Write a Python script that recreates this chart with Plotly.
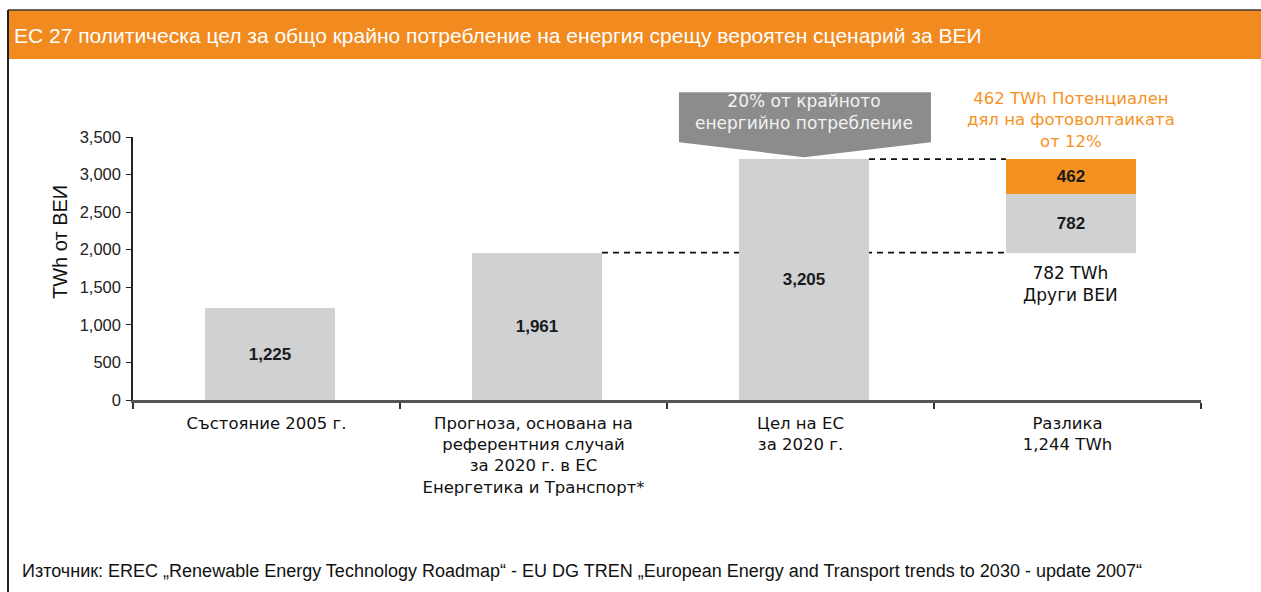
import plotly.graph_objects as go

# ---------------- data ----------------
categories = ["Състояние 2005 г.",
              "Прогноза, основана на<br>референтния случай<br>за 2020 г. в ЕС<br>Енергетика и Транспорт*",
              "Цел на ЕС<br>за 2020 г.",
              "Разлика<br>1,244 TWh"]
main_values = [1225, 1961, 3205]          # bars 1-3
gap_base = 1961                            # bar 4 starts at the forecast level
other_res = 782                            # Други ВЕИ
pv_share = 462                             # фотоволтаика
y_ticks = [0, 500, 1000, 1500, 2000, 2500, 3000, 3500]

# ---------------- layout constants ----------------
W, H = 1261, 592
ML, MR, MT, MB = 133, 60, 137, 192
PW, PH = W - ML - MR, H - MT - MB
X_RANGE = [-0.5, 3.5]
Y_RANGE = [0, 3500]
BAR_W = 0.487
BAR_OFF = -BAR_W / 2 + 0.013
GREY = "#D0D1D3"
ORANGE = "#F5911E"
HEADER = "#F18B20"
FONT = "Liberation Sans, Arial, sans-serif"
WIDE = "DejaVu Sans, Verdana, sans-serif"


def px(x):
    return (x - ML) / PW


def py(y):
    return (H - MB - y) / PH


def dx(v):   # data x -> paper
    return (v - X_RANGE[0]) / (X_RANGE[1] - X_RANGE[0])


def dy(v):   # data y -> paper
    return (v - Y_RANGE[0]) / (Y_RANGE[1] - Y_RANGE[0])


fig = go.Figure()

common = dict(width=BAR_W, offset=BAR_OFF, texttemplate="<b>%{y:,}</b>", textposition="inside",
              insidetextanchor="middle", textfont=dict(family=FONT, size=17, color="#1a1a1a"),
              hoverinfo="skip", showlegend=False)

fig.add_trace(go.Bar(x=[0, 1, 2], y=main_values, marker=dict(color=GREY, line=dict(width=0)), **common))
fig.add_trace(go.Bar(x=[3], y=[other_res], base=[gap_base],
                     marker=dict(color=GREY, line=dict(width=0)), **common))
fig.add_trace(go.Bar(x=[3], y=[pv_share], base=[gap_base + other_res],
                     marker=dict(color=ORANGE, line=dict(width=0)), **common))

c = 0.013  # bar centre offset
shapes = []
# dashed connectors
shapes.append(dict(type="line", xref="x", yref="y", x0=1 + c + BAR_W / 2, x1=3 + c - BAR_W / 2,
                   y0=main_values[1], y1=main_values[1], layer="below",
                   line=dict(color="#111", width=1.6, dash="6px,5px")))
shapes.append(dict(type="line", xref="x", yref="y", x0=2 + c + BAR_W / 2, x1=3 + c - BAR_W / 2,
                   y0=main_values[2], y1=main_values[2], layer="below",
                   line=dict(color="#111", width=1.6, dash="6px,5px")))
# callout arrow above target bar (paper refs so it is not clipped)
shapes.append(dict(type="path", xref="paper", yref="paper", xsizemode="pixel", ysizemode="pixel",
                   xanchor=dx(2 + c), yanchor=dy(main_values[2]),
                   path="M -125,67 L 127,67 L 127,17 L 0,2 L -125,17 Z",
                   fillcolor="#8C8C8C", line=dict(width=0), layer="above"))
# header band
shapes.append(dict(type="rect", xref="paper", yref="paper", x0=px(8), x1=px(W + 5), y0=py(59), y1=py(10),
                   fillcolor=HEADER, line=dict(width=0), layer="above"))
shapes.append(dict(type="line", xref="paper", yref="paper", x0=px(8), x1=px(W + 5), y0=py(10), y1=py(10),
                   line=dict(color="#3a3a3a", width=1.5)))
# left frame line
shapes.append(dict(type="line", xref="paper", yref="paper", x0=px(8), x1=px(8), y0=py(10), y1=py(H + 5),
                   line=dict(color="#222", width=2)))

annotations = [
    dict(text="ЕС 27 политическа цел за общо крайно потребление на енергия срещу вероятен сценарий за ВЕИ",
         xref="paper", yref="paper", x=px(12), y=py(35), xanchor="left", yanchor="middle", showarrow=False,
         font=dict(family=FONT, size=21, color="white")),
    dict(text="TWh от ВЕИ", xref="paper", yref="paper", x=px(60), y=py(242), textangle=-90,
         xanchor="center", yanchor="middle", showarrow=False, font=dict(family=FONT, size=20, color="#111")),
    dict(text="20% от крайното<br>енергийно потребление", xref="x", yref="y", x=2 + c, y=main_values[2],
         xanchor="center", yanchor="bottom", yshift=24, showarrow=False,
         font=dict(family=WIDE, size=17, color="#F2F2F2")),
    dict(text="462 TWh Потенциален<br>дял на фотоволтаиката<br>от 12%", xref="x", yref="y", x=3 + c,
         y=gap_base + other_res + pv_share, xanchor="center", yanchor="bottom", yshift=6, showarrow=False,
         font=dict(family=WIDE, size=16.5, color="#F5921E")),
    dict(text="782 TWh<br>Други ВЕИ", xref="x", yref="y", x=3 + c, y=gap_base, xanchor="center",
         yanchor="top", yshift=-8, showarrow=False, font=dict(family=WIDE, size=17, color="#111")),
    dict(text="Източник: EREC „Renewable Energy Technology Roadmap“ - EU DG TREN „European Energy and Transport trends to 2030 - update 2007“",
         xref="paper", yref="paper", x=px(20), y=py(571), xanchor="left", yanchor="middle", showarrow=False,
         font=dict(family=FONT, size=18, color="#111")),
]

fig.update_layout(
    width=W, height=H, autosize=False,
    margin=dict(l=ML, r=MR, t=MT, b=MB, pad=0),
    paper_bgcolor="white", plot_bgcolor="white",
    barmode="overlay", bargap=0,
    shapes=shapes, annotations=annotations,
    font=dict(family=FONT, color="#111"),
    xaxis=dict(range=X_RANGE, tickvals=[0, 1, 2, 3], ticktext=categories, ticks="",
               showline=True, linecolor="#555", linewidth=2.5, showgrid=False, zeroline=False,
               tickfont=dict(family=WIDE, size=16.5, color="#111"), ticklabelstandoff=6,
               minor=dict(tickvals=[-0.5, 0.5, 1.5, 2.5, 3.5], ticks="outside", ticklen=6,
                          tickcolor="#333", tickwidth=1.5)),
    yaxis=dict(range=Y_RANGE, tickvals=y_ticks, tickformat=",", showline=True, linecolor="#222",
               linewidth=1.5, ticks="outside", ticklen=5, tickcolor="#222", showgrid=False, zeroline=False,
               tickfont=dict(family=FONT, size=16.5, color="#222"), ticklabelstandoff=2),
)

fig.write_html("out.html", config={"displayModeBar": False},
               post_script="document.body.style.margin='0';document.body.style.overflow='hidden';")
